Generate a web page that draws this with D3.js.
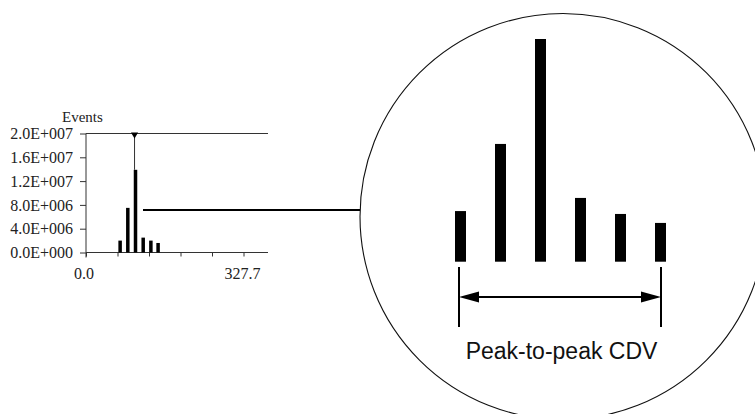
<!DOCTYPE html>
<html>

<head>
  <meta charset='utf-8'>
  <style>
    body { margin: 0; background: #fff; }
    svg { display: block; }
  </style>
  <script src='https://cdn.jsdelivr.net/npm/d3@7'></script>
</head>

<body>

  <script>

    let [width, height] = [755, 414]

    // histogram (small view)
    let channels = [71, 87, 103, 119, 135, 150]
    let counts = [2.0e6, 7.5e6, 13.9e6, 2.5e6, 2.0e6, 1.6e6]
    let peakChannel = 101
    let yTicks = [0, 4e6, 8e6, 1.2e7, 1.6e7, 2e7]
    let yLabels = ['0.0E+000', '4.0E+006', '8.0E+006', '1.2E+007', '1.6E+007', '2.0E+007']
    let xDomain = [0, 327.7]
    let xLabels = ['0.0', '327.7']

    // magnified view of the same six bins (drawn schematically)
    let zoomBins = ['b1', 'b2', 'b3', 'b4', 'b5', 'b6']
    let zoomCounts = [3.16e6, 7.35e6, 13.9e6, 3.98e6, 2.98e6, 2.42e6]
    let caption = 'Peak-to-peak CDV'

    let svg = d3.select('body')
      .append('svg')
      .attr('width', width)
      .attr('height', height)

    // ---- small histogram ----
    let x = d3.scaleLinear(xDomain, [86, 243.5])
    let y = d3.scaleLinear([0, 2e7], [252.5, 133.5])
    let serif = '"Liberation Serif", "Times New Roman", serif'
    let axisColor = '#333'

    let small = svg.append('g')

    // y axis
    small.append('g')
      .attr('transform', `translate(${x(0)},0)`)
      .call(d3.axisLeft(y).tickValues(yTicks).tickSize(6).tickFormat((d, i) => yLabels[i]))
      .call(g => g.select('.domain').attr('stroke', axisColor).attr('d', `M0,${y(2e7)}V${y(0) + 5}`))
      .call(g => g.selectAll('.tick line').attr('stroke', axisColor))
      .call(g => g.selectAll('.tick text')
        .attr('x', -13)
        .attr('font-family', serif)
        .attr('font-size', 16)
        .attr('fill', '#222'))

    // x axis
    small.append('g')
      .attr('transform', `translate(0,${y(0)})`)
      .call(d3.axisBottom(x).tickValues(d3.range(6).map(i => xDomain[1] / 5 * i)).tickSize(4).tickFormat(''))
      .call(g => g.select('.domain').attr('stroke', axisColor).attr('d', `M${x(0)},0H268`))
      .call(g => g.selectAll('.tick line').attr('stroke', axisColor))

    small.selectAll('.xlab')
      .data(xLabels)
      .enter()
      .append('text')
      .attr('x', (d, i) => x(xDomain[i]) + (i ? -1 : -2))
      .attr('y', 279)
      .attr('text-anchor', 'middle')
      .attr('font-family', serif)
      .attr('font-size', 16)
      .attr('fill', '#222')
      .text(d => d)

    // top line at full scale
    small.append('line')
      .attr('x1', x(0)).attr('x2', 268)
      .attr('y1', y(2e7)).attr('y2', y(2e7))
      .attr('stroke', axisColor)

    small.append('text')
      .attr('x', 62)
      .attr('y', 122)
      .attr('font-family', serif)
      .attr('font-size', 15)
      .attr('fill', '#222')
      .text('Events')

    // bars
    small.selectAll('rect')
      .data(counts)
      .enter()
      .append('rect')
      .attr('x', (d, i) => x(channels[i]) - 1.75)
      .attr('width', 3.5)
      .attr('y', d => y(d))
      .attr('height', d => y(0) - y(d))
      .attr('fill', '#000')

    // peak cursor
    let peakTop = y(d3.max(counts))
    small.append('line')
      .attr('x1', x(peakChannel)).attr('x2', x(peakChannel))
      .attr('y1', y(2e7)).attr('y2', peakTop)
      .attr('stroke', axisColor)
    small.append('path')
      .attr('d', d3.symbol(d3.symbolTriangle, 22)())
      .attr('transform', `translate(${x(peakChannel)},${y(2e7) + 1}) rotate(180)`)
      .attr('fill', '#000')

    // ---- magnified view ----
    let [cx, cy, r] = [563, 216.5, 203]
    svg.append('circle')
      .attr('cx', cx).attr('cy', cy).attr('r', r)
      .attr('fill', 'none')
      .attr('stroke', '#111')
      .attr('stroke-width', 1.1)

    // connector
    svg.append('line')
      .attr('x1', 143).attr('x2', cx - r)
      .attr('y1', 210).attr('y2', 210)
      .attr('stroke', '#000')
      .attr('stroke-width', 2)

    let bx = d3.scaleBand(zoomBins, [440.5, 680.5]).paddingInner(0.725).paddingOuter(0.3625)
    let by = d3.scaleLinear([0, 13.9e6], [261.7, 39])

    svg.append('g')
      .selectAll('rect')
      .data(zoomCounts)
      .enter()
      .append('rect')
      .attr('x', (d, i) => bx(zoomBins[i]))
      .attr('width', bx.bandwidth())
      .attr('y', d => by(d))
      .attr('height', d => by(0) - by(d))
      .attr('fill', '#000')

    // peak-to-peak span
    let left = bx(zoomBins[0]) + bx.bandwidth() / 2 - 1.5
    let right = bx(zoomBins[5]) + bx.bandwidth() / 2 + 0.5
    let span = svg.append('g').attr('stroke', '#000').attr('stroke-width', 2)
    span.selectAll('.tickv')
      .data([left, right])
      .enter()
      .append('line')
      .attr('x1', d => d).attr('x2', d => d)
      .attr('y1', 267).attr('y2', 327)
    span.append('line')
      .attr('x1', left + 14).attr('x2', right - 14)
      .attr('y1', 297).attr('y2', 297)

    svg.selectAll('.head')
      .data([[left, 1], [right, -1]])
      .enter()
      .append('path')
      .attr('d', ([px, dir]) => `M${px},297L${px + dir * 20},291.5L${px + dir * 20},302.5Z`)
      .attr('fill', '#000')

    svg.append('text')
      .attr('x', 561.5)
      .attr('y', 359)
      .attr('text-anchor', 'middle')
      .attr('font-family', '"Liberation Sans", Arial, Helvetica, sans-serif')
      .attr('font-size', 23)
      .attr('fill', '#111')
      .text(caption)
  </script>
</body>

</html>
